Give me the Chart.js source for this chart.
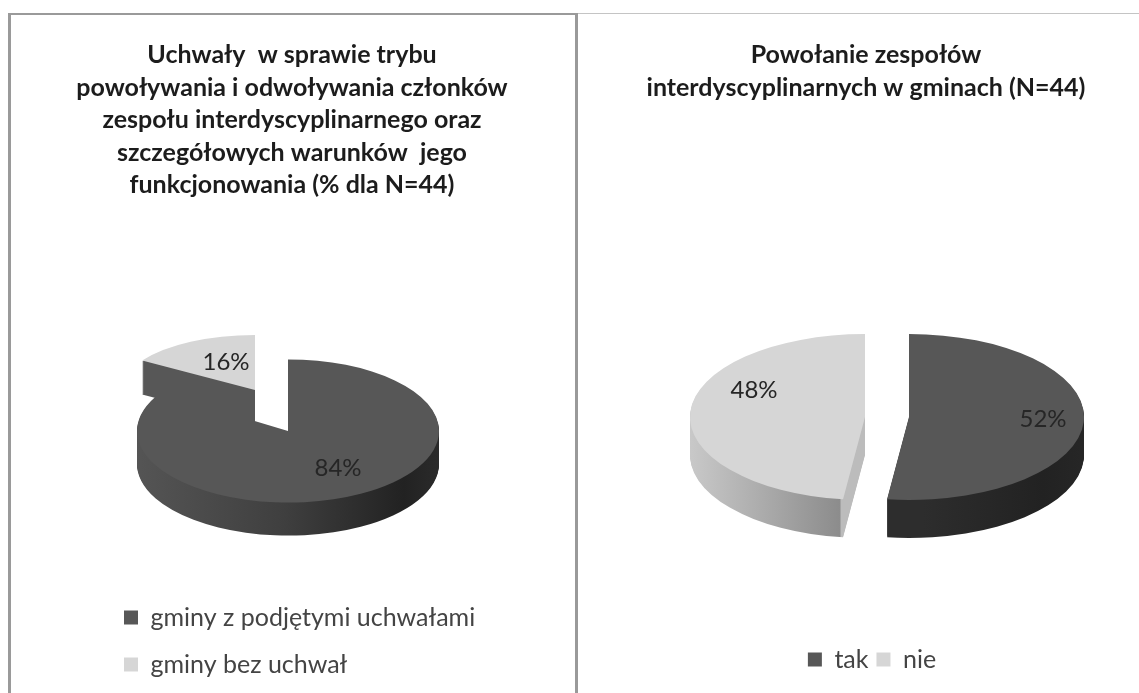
<!DOCTYPE html>
<html>
<head>
<meta charset="utf-8">
<title>Uchwały i zespoły interdyscyplinarne</title>
<script src="https://cdn.jsdelivr.net/npm/chart.js@4/dist/chart.umd.min.js"></script>
<style>
html, body { margin: 0; padding: 0; background: #fff; overflow: hidden; }
#page { position: relative; width: 1139px; height: 693px; overflow: hidden; filter: blur(0.7px); }
canvas { position: absolute; top: 0; }
#chartLeft { left: 8px; }
#chartRight { left: 580px; }
.rule { position: absolute; background: #9a9a9a; }
</style>
</head>
<body>
<div id="page">
  <canvas id="chartLeft" width="568" height="693"></canvas>
  <canvas id="chartRight" width="572" height="693"></canvas>
  <div class="rule" style="left:8px;top:13px;width:569px;height:2px"></div>
  <div class="rule" style="left:8px;top:13px;width:3px;height:680px"></div>
  <div class="rule" style="left:575px;top:13px;width:3px;height:680px"></div>
  <div class="rule" style="left:578px;top:13px;width:561px;height:1px;background:#c4c4c4"></div>
</div>
<script>
// Data
const leftTitle = [
    'Uchwały  w sprawie trybu',
    'powoływania i odwoływania członków',
    'zespołu interdyscyplinarnego oraz',
    'szczegółowych warunków  jego',
    'funkcjonowania (% dla N=44)'
];
const leftCategories = ['gminy z podjętymi uchwałami', 'gminy bez uchwał'];
const leftValues = [84, 16];

const rightTitle = ['Powołanie zespołów', 'interdyscyplinarnych w gminach (N=44)'];
const rightCategories = ['tak', 'nie'];
const rightValues = [52, 48];

// Colours
const DARK = '#575757';
const LIGHT = '#d6d6d6';
const FONT = 'Lato, Carlito, sans-serif';

// Draws a pie controller's arcs squashed and extruded like a 3D pie
const pie3d = {
    id: 'pie3d',
    afterLayout(chart, args, opts) {
        chart.legend.left += opts.legendShift;
        chart.legend.right += opts.legendShift;
    },
    beforeDatasetDraw(chart, args, opts) {
        const ctx = chart.ctx;
        const arcs = args.meta.data;

        const place = (arc, i, drop) => {
            const [sx, sy] = opts.shift[i];
            const [kx, ky] = opts.shrink[i];
            ctx.translate(opts.centerX + sx, opts.centerY + sy + drop);
            ctx.scale(kx, opts.squash * ky);
            ctx.translate(-arc.x, -arc.y);
        };

        arcs.forEach((arc, i) => {
            const gradient = ctx.createLinearGradient(0, 0, chart.width, 0);
            opts.sides[i].forEach(([x, color]) => gradient.addColorStop(x / chart.width, color));

            const original = arc.options;
            arc.options = Object.create(original, { backgroundColor: { value: gradient } });
            for (let d = opts.depth[i]; d > 0; d--) {
                ctx.save();
                place(arc, i, d);
                arc.draw(ctx);
                ctx.restore();
            }
            arc.options = original;

            ctx.save();
            place(arc, i, 0);
            arc.draw(ctx);
            ctx.restore();
        });

        // Percent labels
        ctx.save();
        ctx.fillStyle = '#262626';
        ctx.font = opts.labelFont;
        ctx.textAlign = 'center';
        ctx.textBaseline = 'middle';
        chart.data.datasets[0].data.forEach((value, i) => {
            ctx.fillText(`${value}%`, opts.labels[i][0], opts.labels[i][1]);
        });
        ctx.restore();

        return false;
    }
};

function createPie(canvasId, title, categories, values, radius, padding, legend, pieOptions) {
    return new Chart(document.getElementById(canvasId), {
        type: 'pie',
        data: {
            labels: categories,
            datasets: [{
                data: values,
                backgroundColor: [DARK, LIGHT],
                borderWidth: 0,
                radius: radius
            }]
        },
        options: {
            responsive: false,
            animation: false,
            events: [],
            layout: { padding: padding },
            plugins: {
                tooltip: { enabled: false },
                title: {
                    display: true,
                    text: title,
                    color: '#1c1c1c',
                    padding: { top: 39, bottom: 0 },
                    font: { family: FONT, size: 25, weight: 'bold', lineHeight: 1.3 }
                },
                legend: {
                    position: 'bottom',
                    align: legend.align,
                    labels: {
                        boxWidth: 14,
                        boxHeight: 14,
                        padding: legend.gap,
                        color: '#444',
                        font: { family: FONT, size: 25 }
                    }
                },
                pie3d: pieOptions
            }
        },
        plugins: [pie3d]
    });
}

createPie('chartLeft', leftTitle, leftCategories, leftValues, 151,
    { left: 60, right: 60, bottom: 6 },
    { align: 'start', gap: 22 },
    {
        centerX: 280,
        centerY: 431,
        squash: 0.474,
        depth: [33, 34],
        shift: [[0, 0], [-33, -41]],
        shrink: [[1, 1], [0.885, 0.77]],
        sides: [
            [[130, '#555555'], [280, '#3f3f3f'], [400, '#222222'], [433, '#2a2a2a']],
            [[0, DARK], [568, DARK]]
        ],
        labels: [[330, 468], [218, 362]],
        labelFont: `24px ${FONT}`,
        legendShift: 34
    });

createPie('chartRight', rightTitle, rightCategories, rightValues, 175,
    { left: 0, right: 0, bottom: 11 },
    { align: 'center', gap: 8 },
    {
        centerX: 306,
        centerY: 417,
        squash: 0.474,
        depth: [38, 38],
        shift: [[23, 0], [-21, 0]],
        shrink: [[1, 1], [1, 1]],
        sides: [
            [[300, '#2d2d2d'], [420, '#222222'], [504, '#2b2b2b']],
            [[110, '#c9c9c9'], [261, '#8c8c8c'], [262, '#bcbcbc'], [300, '#bcbcbc']]
        ],
        labels: [[463, 419], [174, 390]],
        labelFont: `24px ${FONT}`,
        legendShift: 6
    });
</script>
</body>
</html>
